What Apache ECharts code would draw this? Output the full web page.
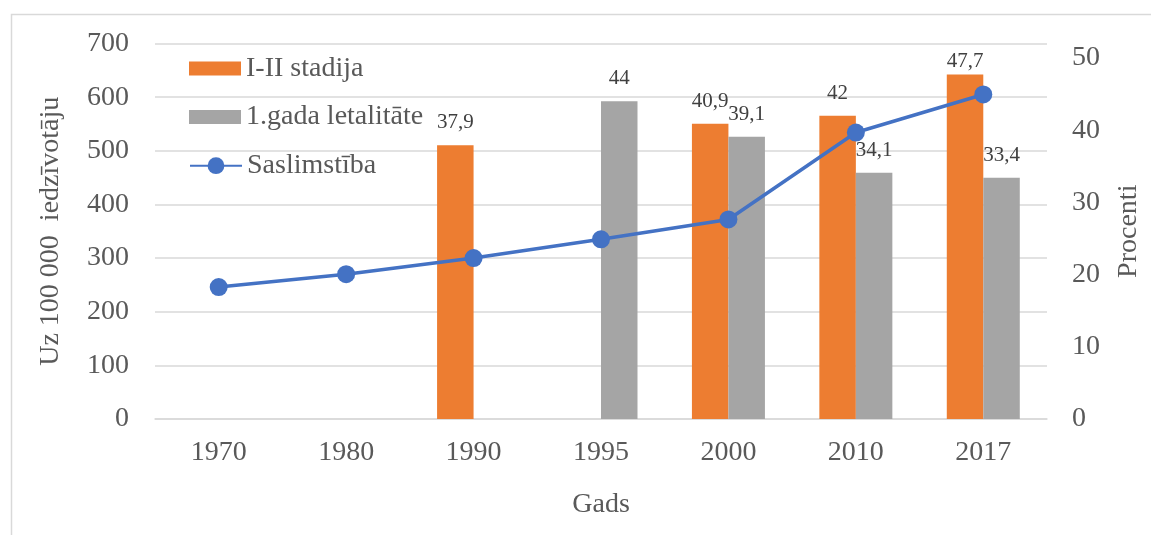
<!DOCTYPE html>
<html>
<head>
<meta charset="utf-8">
<script src="https://cdn.jsdelivr.net/npm/echarts@6/dist/echarts.min.js"></script>
<style>
  html, body { margin: 0; padding: 0; background: #fff; }
  #chart { width: 1151px; height: 535px; }
</style>
</head>
<body>
<div id="chart"></div>
<script>
// Years on the category axis
const years = ['1970', '1980', '1990', '1995', '2000', '2010', '2017'];
// Share of early-stage (I-II) diagnoses, percent
const stageEarly = [null, null, 37.9, null, 40.9, 42, 47.7];
// First-year lethality, percent
const firstYearLethality = [null, null, null, 44, 39.1, 34.1, 33.4];
// Incidence per 100 000 inhabitants
const incidence = [246, 270, 300, 335, 372, 534, 605];

const leftTicks = { min: 0, max: 700, interval: 100 };
const rightTicks = { min: 0, max: 52, interval: 10 };

const FONT = "'Liberation Serif', 'Times New Roman', serif";
const AXIS_TEXT = '#595959';
const LABEL_TEXT = '#404040';
const GRID_COLOR = '#D9D9D9';

const comma = v => String(v).replace('.', ',');

function barLabel(distance) {
  return {
    show: true,
    position: 'top',
    distance: distance,
    fontFamily: FONT,
    fontSize: 21,
    color: LABEL_TEXT,
    formatter: p => comma(p.value)
  };
}

// Labels near the top of the plot sit closer to their bar
function barData(values) {
  return values.map(v => (v !== null && v > 46)
    ? { value: v, label: { distance: 3 } }
    : v);
}

const chart = echarts.init(document.getElementById('chart'), null, { renderer: 'canvas' });

chart.setOption({
  backgroundColor: '#fff',
  animation: false,
  graphic: [{
    type: 'rect',
    shape: { x: 11.5, y: 14.5, width: 1150, height: 530 },
    style: { fill: 'none', stroke: GRID_COLOR, lineWidth: 1.5 },
    silent: true,
    z: -1
  }],
  grid: { left: 155, right: 101, top: 43.5, bottom: 116, containLabel: false },
  legend: [{
    data: ['I-II stadija', '1.gada letalitāte'],
    orient: 'vertical',
    left: 189,
    top: 53.5,
    padding: 0,
    itemWidth: 52,
    itemHeight: 14,
    itemGap: 18.5,
    icon: 'rect',
    textStyle: { fontFamily: FONT, fontSize: 28, color: AXIS_TEXT, lineHeight: 30 }
  }, {
    data: ['Saslimstība'],
    orient: 'vertical',
    left: 189,
    top: 150.7,
    padding: 0,
    itemWidth: 52,
    itemHeight: 21,
    textStyle: { fontFamily: FONT, fontSize: 28, color: AXIS_TEXT, lineHeight: 30 }
  }],
  xAxis: {
    type: 'category',
    data: years,
    name: 'Gads',
    nameLocation: 'middle',
    nameGap: 72,
    nameTextStyle: { fontFamily: FONT, fontSize: 28, color: AXIS_TEXT },
    axisLine: { show: true, lineStyle: { color: GRID_COLOR, width: 1.5 } },
    axisTick: { show: false },
    axisLabel: { margin: 20, fontFamily: FONT, fontSize: 28, color: AXIS_TEXT }
  },
  yAxis: [{
    type: 'value',
    min: leftTicks.min,
    max: leftTicks.max,
    interval: leftTicks.interval,
    name: 'Uz 100 000  iedzīvotāju',
    nameLocation: 'middle',
    nameRotate: 90,
    nameGap: 90,
    nameTextStyle: { fontFamily: FONT, fontSize: 28, color: AXIS_TEXT },
    axisLine: { show: false },
    axisTick: { show: false },
    splitLine: { show: true, lineStyle: { color: GRID_COLOR, width: 1.5 } },
    axisLabel: { margin: 26, fontFamily: FONT, fontSize: 28, color: AXIS_TEXT }
  }, {
    type: 'value',
    position: 'right',
    min: rightTicks.min,
    max: rightTicks.max,
    interval: rightTicks.interval,
    name: 'Procenti',
    nameLocation: 'middle',
    nameRotate: 90,
    nameGap: 68,
    nameTextStyle: { fontFamily: FONT, fontSize: 28, color: AXIS_TEXT },
    axisLine: { show: false },
    axisTick: { show: false },
    splitLine: { show: false },
    axisLabel: {
      margin: 25,
      fontFamily: FONT,
      fontSize: 28,
      color: AXIS_TEXT,
      formatter: v => (v % 10 === 0 ? String(v) : '')
    }
  }],
  series: [{
    name: 'I-II stadija',
    type: 'bar',
    yAxisIndex: 1,
    data: barData(stageEarly),
    barWidth: 36.5,
    barGap: '0%',
    itemStyle: { color: '#ED7D31' },
    label: barLabel(12)
  }, {
    name: '1.gada letalitāte',
    type: 'bar',
    yAxisIndex: 1,
    data: barData(firstYearLethality),
    barWidth: 36.5,
    barGap: '0%',
    itemStyle: { color: '#A5A5A5' },
    label: barLabel(12)
  }, {
    name: 'Saslimstība',
    type: 'line',
    yAxisIndex: 0,
    data: incidence,
    symbol: 'circle',
    symbolSize: 18,
    lineStyle: { color: '#4472C4', width: 3.5 },
    itemStyle: { color: '#4472C4' },
    z: 3
  }]
});
</script>
</body>
</html>
